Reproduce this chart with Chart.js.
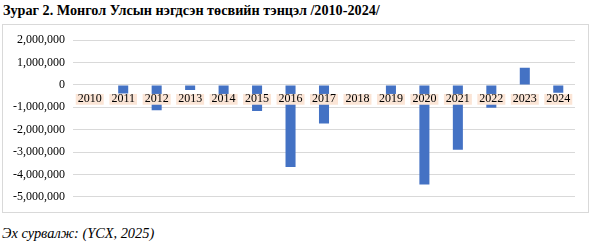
<!DOCTYPE html>
<html>
<head>
<meta charset="utf-8">
<script src="https://cdn.jsdelivr.net/npm/chart.js@4.4.1/dist/chart.umd.min.js"></script>
<style>
  body { margin: 0; background: #fff; width: 593px; height: 249px; position: relative; overflow: hidden; }
  #title { position: absolute; left: 3px; top: 2px; font: bold 14.2px "Liberation Serif", "Times New Roman", serif; color: #000; white-space: nowrap; }
  #box { position: absolute; left: 2px; top: 24px; width: 585px; height: 187px; border: 1px solid #d9d9d9; }
  #source { position: absolute; left: 2px; top: 225px; font: italic 14.4px "Liberation Serif", "Times New Roman", serif; color: #000; white-space: nowrap; }
</style>
</head>
<body>
<div id="title">Зураг 2. Монгол Улсын нэгдсэн төсвийн тэнцэл /2010-2024/</div>
<div id="box"><canvas id="grafico" width="585" height="187"></canvas></div>
<div id="source">Эх сурвалж: (ҮСХ, 2025)</div>
<script>
// datos del grafico
const years = ["2010","2011","2012","2013","2014","2015","2016","2017","2018","2019","2020","2021","2022","2023","2024"];
const balance = [20000, -380000, -1130000, -230000, -400000, -1160000, -3665000, -1725000, 20000, -400000, -4450000, -2900000, -1020000, 770000, -350000];
const yTicks = [2000000, 1000000, 0, -1000000, -2000000, -3000000, -4000000, -5000000];

const fmt = v => v.toLocaleString("en-US");
const serif = "'Liberation Serif', 'Times New Roman', serif";

new Chart(document.getElementById("grafico"), {
  type: "bar",
  data: {
    labels: years,
    datasets: [{
      data: balance,
      backgroundColor: "#4472c4",
      borderWidth: 0,
      barPercentage: 0.3,
      categoryPercentage: 1
    }]
  },
  options: {
    responsive: false,
    animation: false,
    layout: { padding: { left: 0, right: 13, top: 14, bottom: 13 } },
    plugins: { legend: { display: false }, tooltip: { enabled: false } },
    scales: {
      x: {
        position: { y: 0 },
        grid: { display: false, drawTicks: false },
        border: { display: false },
        ticks: {
          z: 1,
          padding: 9,
          color: "#000",
          font: { family: serif, size: 12, lineHeight: 0.9 },
          showLabelBackdrop: true,
          backdropColor: "#fbe5d6",
          backdropPadding: { top: 0, bottom: 0, left: 2, right: 2 },
          maxRotation: 0,
          autoSkip: false
        }
      },
      y: {
        min: -5000000,
        max: 2000000,
        afterFit: s => { s.width = 70; },
        afterBuildTicks: s => { s.ticks = yTicks.map(v => ({ value: v })); },
        grid: { color: "#d9d9d9", drawTicks: false, lineWidth: 1 },
        border: { display: false },
        ticks: {
          padding: 8,
          color: "#000",
          font: { family: serif, size: 12 },
          callback: v => fmt(v)
        }
      }
    }
  }
});
</script>
</body>
</html>
